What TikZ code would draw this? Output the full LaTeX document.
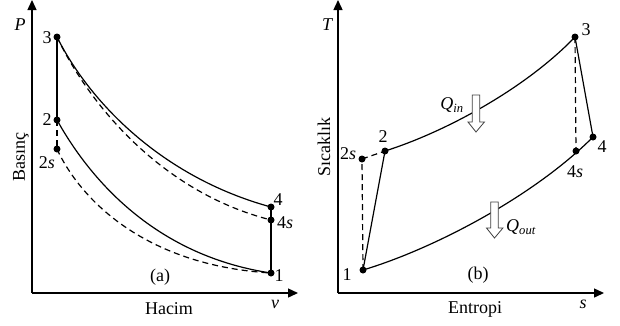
\documentclass[tikz,border=0pt]{standalone}
\usepackage{fontspec}
\setmainfont{Liberation Serif}
\usetikzlibrary{arrows.meta}
\begin{document}
\begin{tikzpicture}[x=1pt,y=-1pt,
  axis/.style={line width=1.4pt,-{Triangle[length=10pt,width=9pt]}},
  curve/.style={line width=1.2pt},
  dcurve/.style={line width=1.2pt,dash pattern=on 6pt off 4pt},
  dot/.style={circle,fill=black,inner sep=0pt,minimum size=7pt},
  lab/.style={inner sep=0pt,font=\fontsize{18}{20}\selectfont},
  harrow/.style={fill=white,draw=black!75,line width=0.8pt}]
\useasboundingbox (0,0) rectangle (620,325);
% ---------- panel (a)
\coordinate (oa) at (32,293);
\coordinate (ya) at (32,0);
\coordinate (xa) at (298,293);
\draw[axis] (oa) -- (ya);
\draw[axis] (oa) -- (xa);
\node[dot] (a3) at (57,37) {};
\node[dot] (a2) at (57,120) {};
\node[dot] (a2s) at (57,149) {};
\node[dot] (a4) at (271,207) {};
\node[dot] (a4s) at (271,220) {};
\node[dot] (a1) at (271,273) {};
\draw[curve] (a3.center) -- (a2.center);
\draw[dcurve] (a2.center) -- (a2s.center);
\draw[curve] (a4.center) -- (a1.center);
\draw[curve] (a3.center) .. controls (89,101) and (161,177) .. (a4.center);
\draw[dcurve] (a3.center) .. controls (89,104) and (161,192) .. (a4s.center);
\draw[curve] (a2.center) .. controls (87,174) and (151,255) .. (a1.center);
\draw[dcurve] (a2s.center) .. controls (78,195) and (140,265) .. (a1.center);
\node[lab] (lP) at (20,25) {\itshape P};
\node[lab] (la3) at (47,38) {3};
\node[lab] (la2) at (47,120) {2};
\node[lab] (la2s) at (47,163) {2\itshape s};
\node[lab] (la4) at (278,200) {4};
\node[lab] (la4s) at (285,223) {4\itshape s};
\node[lab] (la1) at (279,276) {1};
\node[lab] (lpa) at (160,277) {(a)};
\node[lab] (lh) at (169,309) {Hacim};
\node[lab] (lv) at (275,304) {\itshape v};
\node[lab,rotate=90] (lb) at (21,157) {Basınç};
% ---------- panel (b)
\coordinate (ob) at (338,293);
\coordinate (yb) at (338,0);
\coordinate (xb) at (604,293);
\draw[axis] (ob) -- (yb);
\draw[axis] (ob) -- (xb);
\node[dot] (b3) at (575,37) {};
\node[dot] (b4) at (593,137) {};
\node[dot] (b4s) at (576,151) {};
\node[dot] (b2) at (385,151) {};
\node[dot] (b2s) at (362,159) {};
\node[dot] (b1) at (363,270) {};
\draw[curve] (b1.center) -- (b2.center);
\draw[dcurve] (b1.center) -- (b2s.center);
\draw[dcurve] (b2s.center) -- (b2.center);
\draw[curve] (b3.center) -- (b4.center);
\draw[dcurve] (b3.center) -- (b4s.center);
\draw[curve] (b2.center) .. controls (445,132) and (525,89) .. (b3.center);
\draw[curve] (b1.center) .. controls (433,249) and (533,197) .. (b4.center);
% heat arrows
\coordinate (qi) at (476,95);
\draw[harrow] (qi) ++(-3.8,0) -- ++(7.6,0) -- ++(0,27) -- ++(4.6,0) -- (476,132) -- (468,122) -- ++(4.2,0) -- cycle;
\coordinate (qo) at (494.5,202);
\draw[harrow] (qo) ++(-3.8,0) -- ++(7.6,0) -- ++(0,26) -- ++(4.6,0) -- (494.5,238) -- (486.5,228) -- ++(4.2,0) -- cycle;
\node[lab] (lT) at (327,25) {\itshape T};
\node[lab] (lb3) at (586,30) {3};
\node[lab] (lb4) at (602,147) {4};
\node[lab] (lb4s) at (575,172) {4\itshape s};
\node[lab] (lb2) at (383,137) {2};
\node[lab] (lb2s) at (348,154) {2\itshape s};
\node[lab] (lb1) at (347,275) {1};
\node[lab] (lpb) at (478,275) {(b)};
\node[lab] (le) at (475,309) {Entropi};
\node[lab] (ls) at (583,304) {\itshape s};
\node[lab,rotate=90] (lsc) at (324,147) {Sıcaklık};
\node[lab] (lqi) at (452,105) {\itshape Q\textsubscript{in}};
\node[lab] (lqo) at (521,227) {\itshape Q\textsubscript{out}};
\end{tikzpicture}
\end{document}
